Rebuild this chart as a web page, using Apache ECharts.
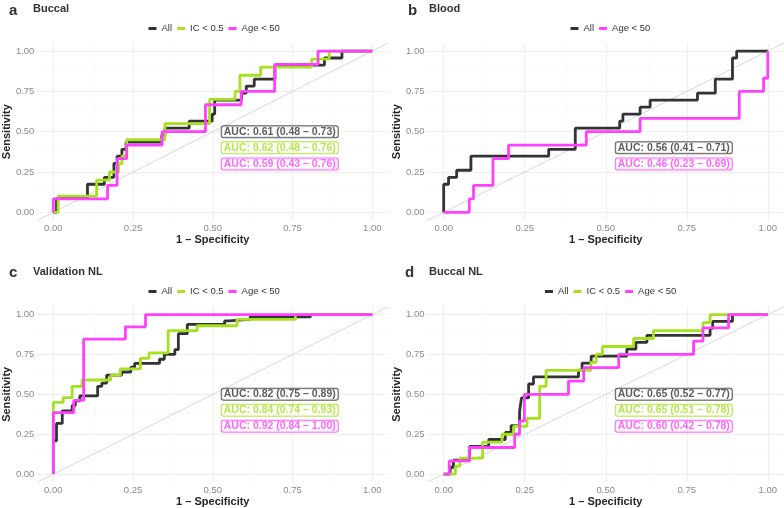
<!DOCTYPE html>
<html><head><meta charset="utf-8">
<script src="https://cdn.jsdelivr.net/npm/echarts@6/dist/echarts.min.js"></script>
<style>html,body{margin:0;padding:0;background:#fff}#c{width:784px;height:508px}</style>
</head><body><div id="c"></div>
<script>
// ---- data ----
const tickValues = [0, 0.25, 0.5, 0.75, 1];
const minorValues = [0.125, 0.375, 0.625, 0.875];
const panelTags = ['a', 'b', 'c', 'd'];
const panelTitles = ['Buccal', 'Blood', 'Validation NL', 'Buccal NL'];
const groupNames = ['All', 'IC < 0.5', 'Age < 50'];

const buccalAll = [[0,0],[0.01,0],[0.01,0.087],[0.107,0.087],[0.107,0.174],[0.16,0.174],[0.16,0.217],[0.19,0.217],[0.19,0.304],[0.2,0.304],[0.2,0.348],[0.215,0.348],[0.215,0.391],[0.228,0.391],[0.228,0.435],[0.34,0.435],[0.34,0.478],[0.35,0.478],[0.35,0.522],[0.426,0.522],[0.426,0.565],[0.498,0.565],[0.498,0.609],[0.506,0.609],[0.506,0.696],[0.59,0.696],[0.59,0.739],[0.605,0.739],[0.605,0.783],[0.63,0.783],[0.63,0.826],[0.695,0.826],[0.695,0.913],[0.85,0.913],[0.85,0.957],[0.905,0.957],[0.905,1],[1,1]];
const buccalIC = [[0,0],[0.015,0],[0.015,0.1],[0.136,0.1],[0.136,0.2],[0.176,0.2],[0.176,0.25],[0.205,0.25],[0.205,0.3],[0.215,0.3],[0.215,0.35],[0.23,0.35],[0.23,0.45],[0.35,0.45],[0.35,0.55],[0.49,0.55],[0.49,0.7],[0.57,0.7],[0.57,0.75],[0.585,0.75],[0.585,0.85],[0.65,0.85],[0.65,0.9],[0.81,0.9],[0.81,0.95],[0.865,0.95],[0.865,1],[1,1]];
const buccalAge = [[0,0],[0,0.083],[0.17,0.083],[0.17,0.167],[0.2,0.167],[0.2,0.333],[0.23,0.333],[0.23,0.417],[0.341,0.417],[0.341,0.5],[0.477,0.5],[0.477,0.667],[0.589,0.667],[0.589,0.75],[0.694,0.75],[0.694,0.917],[0.83,0.917],[0.83,1],[1,1]];

const bloodAll = [[0,0],[0,0.174],[0.015,0.174],[0.015,0.217],[0.04,0.217],[0.04,0.261],[0.084,0.261],[0.084,0.348],[0.324,0.348],[0.324,0.391],[0.406,0.391],[0.406,0.522],[0.543,0.522],[0.543,0.565],[0.553,0.565],[0.553,0.609],[0.606,0.609],[0.606,0.652],[0.637,0.652],[0.637,0.696],[0.783,0.696],[0.783,0.739],[0.838,0.739],[0.838,0.826],[0.891,0.826],[0.891,0.957],[0.904,0.957],[0.904,1],[1,1]];
const bloodAge = [[0,0],[0.079,0],[0.079,0.083],[0.092,0.083],[0.092,0.167],[0.152,0.167],[0.152,0.333],[0.2,0.333],[0.2,0.417],[0.44,0.417],[0.44,0.5],[0.606,0.5],[0.606,0.583],[0.912,0.583],[0.912,0.75],[0.987,0.75],[0.987,0.833],[1,0.833],[1,1]];

const valAll = [[0,0],[0,0.209],[0.01,0.209],[0.01,0.318],[0.028,0.318],[0.028,0.397],[0.059,0.397],[0.059,0.43],[0.069,0.43],[0.069,0.46],[0.083,0.46],[0.083,0.49],[0.139,0.49],[0.139,0.55],[0.152,0.55],[0.152,0.57],[0.167,0.57],[0.167,0.62],[0.214,0.62],[0.214,0.64],[0.243,0.64],[0.243,0.67],[0.255,0.67],[0.255,0.694],[0.333,0.694],[0.333,0.72],[0.348,0.72],[0.348,0.75],[0.381,0.75],[0.381,0.78],[0.392,0.78],[0.392,0.88],[0.42,0.88],[0.42,0.938],[0.537,0.938],[0.537,0.96],[0.55,0.96],[0.55,0.97],[0.617,0.97],[0.617,0.985],[0.806,0.985],[0.806,1],[1,1]];
const valIC = [[0,0],[0,0.45],[0.031,0.45],[0.031,0.48],[0.059,0.48],[0.059,0.55],[0.09,0.55],[0.09,0.59],[0.18,0.59],[0.18,0.62],[0.21,0.62],[0.21,0.66],[0.273,0.66],[0.273,0.725],[0.3,0.725],[0.3,0.76],[0.36,0.76],[0.36,0.9],[0.451,0.9],[0.451,0.93],[0.576,0.93],[0.576,0.97],[0.759,0.97],[0.759,1],[1,1]];
const valAge = [[0,0],[0,0.385],[0.064,0.385],[0.064,0.462],[0.095,0.462],[0.095,0.846],[0.226,0.846],[0.226,0.923],[0.289,0.923],[0.289,1],[1,1]];

const bnlAll = [[0,0],[0.02,0],[0.02,0.043],[0.03,0.043],[0.03,0.087],[0.08,0.087],[0.08,0.174],[0.139,0.174],[0.139,0.217],[0.19,0.217],[0.19,0.261],[0.208,0.261],[0.208,0.304],[0.234,0.304],[0.234,0.391],[0.24,0.391],[0.24,0.478],[0.262,0.478],[0.262,0.565],[0.277,0.565],[0.277,0.609],[0.416,0.609],[0.416,0.652],[0.427,0.652],[0.427,0.696],[0.455,0.696],[0.455,0.739],[0.565,0.739],[0.565,0.783],[0.593,0.783],[0.593,0.826],[0.627,0.826],[0.627,0.87],[0.822,0.87],[0.822,0.913],[0.83,0.913],[0.83,0.957],[0.891,0.957],[0.891,1],[1,1]];
const bnlIC = [[0,0],[0.036,0],[0.036,0.05],[0.05,0.05],[0.05,0.1],[0.12,0.1],[0.12,0.2],[0.18,0.2],[0.18,0.25],[0.216,0.25],[0.216,0.3],[0.257,0.3],[0.257,0.35],[0.296,0.35],[0.296,0.55],[0.316,0.55],[0.316,0.65],[0.454,0.65],[0.454,0.7],[0.47,0.7],[0.47,0.75],[0.49,0.75],[0.49,0.8],[0.586,0.8],[0.586,0.85],[0.647,0.85],[0.647,0.9],[0.8,0.9],[0.8,0.95],[0.822,0.95],[0.822,1],[1,1]];
const bnlAge = [[0,0],[0.017,0],[0.017,0.083],[0.079,0.083],[0.079,0.167],[0.219,0.167],[0.219,0.25],[0.234,0.25],[0.234,0.333],[0.249,0.333],[0.249,0.5],[0.385,0.5],[0.385,0.583],[0.432,0.583],[0.432,0.667],[0.54,0.667],[0.54,0.75],[0.771,0.75],[0.771,0.833],[0.8,0.833],[0.8,0.917],[0.879,0.917],[0.879,1],[1,1]];

const aucBuccal = ['AUC: 0.61 (0.48 \u2013 0.73)', 'AUC: 0.62 (0.48 \u2013 0.76)', 'AUC: 0.59 (0.43 \u2013 0.76)'];
const aucBlood = ['AUC: 0.56 (0.41 \u2013 0.71)', 'AUC: 0.46 (0.23 \u2013 0.69)'];
const aucValidation = ['AUC: 0.82 (0.75 \u2013 0.89)', 'AUC: 0.84 (0.74 \u2013 0.93)', 'AUC: 0.92 (0.84 \u2013 1.00)'];
const aucBuccalNL = ['AUC: 0.65 (0.52 \u2013 0.77)', 'AUC: 0.65 (0.51 \u2013 0.78)', 'AUC: 0.60 (0.42 \u2013 0.78)'];
const aucLabelX = 0.71;
const aucLabelY3 = [0.5, 0.4, 0.3];
const aucLabelY2 = [0.4, 0.3];

// ---- styling / layout ----
const FONT = '"Liberation Sans", Arial, Helvetica, sans-serif';
const colorOf = {'All': '#333333', 'IC < 0.5': '#A4E11F', 'Age < 50': '#FF40FF'};
const panels = [
  {grid: {left: 33.4, top: 43, width: 354.8, height: 177.4}, curves: [['All', buccalAll], ['IC < 0.5', buccalIC], ['Age < 50', buccalAge]], auc: aucBuccal, aucY: aucLabelY3, tag: [9, 3], title: [33, 3.5], legend: [148.5, 23.5]},
  {grid: {left: 427.5, top: 43, width: 356.5, height: 177.4}, curves: [['All', bloodAll], ['Age < 50', bloodAge]], auc: aucBlood, aucY: aucLabelY2, tag: [408, 3], title: [429, 3.5], legend: [570.5, 23.5]},
  {grid: {left: 33.4, top: 306.6, width: 354.8, height: 177.4}, curves: [['All', valAll], ['IC < 0.5', valIC], ['Age < 50', valAge]], auc: aucValidation, aucY: aucLabelY3, tag: [9, 265], title: [33, 266.5], legend: [148.5, 286.5]},
  {grid: {left: 427.5, top: 306.6, width: 356.5, height: 177.4}, curves: [['All', bnlAll], ['IC < 0.5', bnlIC], ['Age < 50', bnlAge]], auc: aucBuccalNL, aucY: aucLabelY3, tag: [405, 265], title: [429, 266.5], legend: [545, 286.5]}
];

const option = {animation: false, backgroundColor: '#fff', grid: [], xAxis: [], yAxis: [], series: [], title: [], legend: []};
const fmt = v => v.toFixed(2);
panels.forEach((p, i) => {
  option.grid.push(Object.assign({containLabel: false}, p.grid));
  option.xAxis.push({type: 'value', gridIndex: i, min: -0.05, max: 1.05,
    name: '1 \u2013 Specificity', nameLocation: 'middle', nameGap: 11,
    nameTextStyle: {fontFamily: FONT, fontWeight: 'bold', fontSize: 11, color: '#262626', verticalAlign: 'top'},
    axisLine: {show: false}, axisTick: {show: false}, splitLine: {show: false},
    axisLabel: {customValues: tickValues, formatter: fmt, margin: 3, fontFamily: FONT, fontSize: 9.5, color: '#8a8a8a'}});
  option.yAxis.push({type: 'value', gridIndex: i, min: -0.05, max: 1.05,
    name: 'Sensitivity', nameLocation: 'middle', nameGap: 21, nameRotate: 90,
    nameTextStyle: {fontFamily: FONT, fontWeight: 'bold', fontSize: 11, color: '#262626'},
    axisLine: {show: false}, axisTick: {show: false}, splitLine: {show: false},
    axisLabel: {customValues: tickValues, formatter: fmt, margin: 3, fontFamily: FONT, fontSize: 9.5, color: '#8a8a8a'}});
  // gridlines (drawn on the bottom layer)
  const gl = [];
  tickValues.forEach(v => { gl.push({xAxis: v, lineStyle: {color: '#ebebeb', width: 0.8, type: 'solid'}}); gl.push({yAxis: v, lineStyle: {color: '#ebebeb', width: 0.8, type: 'solid'}}); });
  minorValues.forEach(v => { gl.push({xAxis: v, lineStyle: {color: '#f4f4f4', width: 0.5, type: 'solid'}}); gl.push({yAxis: v, lineStyle: {color: '#f4f4f4', width: 0.5, type: 'solid'}}); });
  option.series.push({type: 'line', name: 'grid' + i, xAxisIndex: i, yAxisIndex: i, data: [], zlevel: 0, z: 0, silent: true,
    markLine: {silent: true, symbol: ['none', 'none'], label: {show: false}, animation: false,
      lineStyle: {type: 'solid'}, emphasis: {disabled: true}, data: gl}});
  // diagonal
  option.series.push({type: 'line', name: 'diag' + i, xAxisIndex: i, yAxisIndex: i, zlevel: 1, z: 1, silent: true,
    data: [[-0.05, -0.05], [1.05, 1.05]], symbol: 'none', lineStyle: {color: '#d5d9dc', width: 1}});
  // curves
  p.curves.forEach(([nm, d], k) => {
    option.series.push({type: 'line', name: nm, xAxisIndex: i, yAxisIndex: i, zlevel: 1, z: 2 + k, data: d,
      symbol: 'none', showSymbol: false, color: colorOf[nm], lineStyle: {color: colorOf[nm], width: 2.8}});
  });
  // AUC labels
  option.series.push({type: 'scatter', name: 'auc' + i, xAxisIndex: i, yAxisIndex: i, zlevel: 1, z: 10, symbolSize: 1,
    itemStyle: {color: 'rgba(0,0,0,0)'}, silent: true,
    data: p.auc.map((t, k) => {
      const c = colorOf[p.curves[k][0]];
      return {value: [aucLabelX, p.aucY[k]], label: {show: true, position: [0.5, 0.5], align: 'center', verticalAlign: 'middle', formatter: t,
        fontFamily: FONT, fontWeight: 'bold', fontSize: 10.5, color: c, backgroundColor: '#fff',
        textBorderWidth: 0, textShadowBlur: 0,
        borderColor: c, borderWidth: 1, borderRadius: 2, padding: [1, 2, 0, 2], lineHeight: 10}};
    })});
  option.title.push({text: panelTags[i], left: p.tag[0], top: p.tag[1], padding: 0,
    textStyle: {fontFamily: FONT, fontWeight: 'bold', fontSize: 15, color: '#333'}});
  option.title.push({text: panelTitles[i], left: p.title[0], top: p.title[1], padding: 0,
    textStyle: {fontFamily: FONT, fontWeight: 'bold', fontSize: 11, color: '#333'}});
  option.legend.push({data: p.curves.map(c => c[0]), left: p.legend[0], top: p.legend[1], padding: 0,
    icon: 'rect', itemWidth: 8, itemHeight: 3, itemGap: 5, selectedMode: false,
    textStyle: {fontFamily: FONT, fontSize: 9.5, color: '#333', padding: [0, 0, 0, 0]}});
});

const chart = echarts.init(document.getElementById('c'), null, {renderer: 'canvas'});
chart.setOption(option);
</script></body></html>
